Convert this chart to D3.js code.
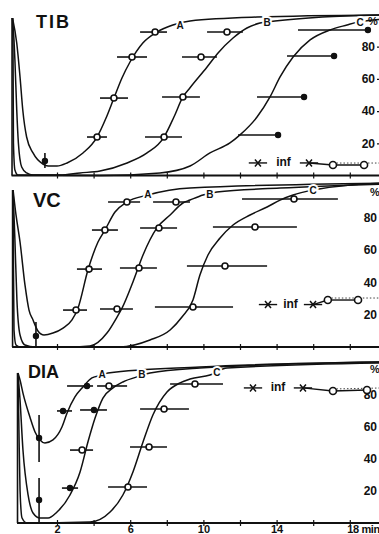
<!DOCTYPE html>
<html>
<head>
<meta charset="utf-8">
<script src="https://cdn.jsdelivr.net/npm/d3@7"></script>
<style>
  html, body { margin: 0; padding: 0; background: #fff; }
  svg { display: block; font-family: "Liberation Sans", Arial, sans-serif; }
</style>
</head>
<body>
<svg id="chart" width="379" height="534"></svg>
<script>
// time axis (min) and % axis
const timeTicks = [2, 4, 6, 8, 10, 12, 14, 16, 18];
const timeLabels = ['2', '', '6', '', '10', '', '14', '', '18 min'];
const pctTicks = [20, 40, 60, 80];
const curveNames = ['A', 'B', 'C'];

// TIB — curves as [min, %]
const tibA = [[-0.43,97.8],[-0.2,82.3],[-0.02,61.2],[0.13,40.7],[0.34,23.9],[0.69,14.0],[1.23,7.1],[1.51,5.9],[2.0,5.9],[2.55,7.8],[3.42,14.0],[4.19,23.9],[4.68,35.7],[5.11,48.1],[5.55,60.6],[5.99,70.5],[6.69,82.3],[7.46,89.1],[8.33,93.5],[9.27,96.0],[12.93,98.4],[19.9,99.7]];
const tibB = [[-0.43,97.8],[-0.35,84.2],[-0.3,71.7],[-0.2,40.7],[-0.11,20.2],[0.07,5.3],[0.34,1.6],[0.69,0.3],[2.16,0.3],[3.26,1.6],[4.35,2.8],[5.83,7.8],[6.92,14.0],[7.85,23.9],[8.39,36.3],[8.88,48.8],[9.27,54.5],[10.2,67.4],[10.8,76.1],[11.62,85.4],[12.38,91.6],[13.09,94.7],[13.91,95.9],[16.5,98.4],[19.9,99.7]];
const tibC = [[-0.43,97.8],[-0.4,71.7],[-0.38,20.2],[-0.3,3.4],[-0.13,0.3],[4.35,0],[7.63,1.6],[9.27,5.9],[10.36,14.0],[11.45,20.2],[12.0,25.2],[12.93,36.3],[13.64,48.8],[14.19,61.2],[14.9,73.6],[15.83,84.2],[16.92,90.4],[17.85,93.5],[18.45,95.3],[19.9,97.2]];
// markers: [min, %, bar from, bar to]
const tibOpenA = [[4.19,23.9,3.64,4.73],[5.11,48.1,4.35,5.88],[6.10,73.6,5.28,6.92],[7.36,89.1,6.54,8.01]];
const tibOpenB = [[7.85,23.9,6.81,8.83],[8.88,48.8,7.74,9.81],[9.87,73.6,8.83,10.74],[11.29,89.1,10.20,12.16]];
const tibFilledC = [[14.08,25.2,11.89,14.08],[15.5,48.8,12.93,15.5],[17.14,74.2,14.57,17.14],[18.99,90.4,15.17,18.99]];
// trough: [min, %, % low, % high]
const tibTrough = [[1.34,9.0,4.7,14.0]];
const tibInfCross = [[12.98,7.8],[15.77,7.8]];
const tibInfOpen = [[17.08,6.5],[18.78,6.5]];
const tibLabelPos = [[8.73,92.9],[13.48,94.7],[18.56,94.7]];

// VC
const vcA = [[-0.4,96.9],[-0.24,81.5],[-0.02,64.8],[0.25,38.3],[0.47,22.8],[0.69,16.7],[0.96,9.9],[1.29,7.4],[1.78,8.6],[2.33,11.7],[2.82,16.7],[3.15,24.1],[3.69,47.5],[4.24,64.8],[4.62,72.2],[5.17,83.3],[5.82,89.5],[6.97,93.8],[9.27,98.1],[19.9,101.2]];
const vcB = [[-0.4,96.9],[-0.3,66.0],[-0.19,29.0],[-0.02,7.4],[0.25,1.2],[0.8,0],[2.71,0],[3.8,0.6],[4.73,8.6],[5.28,18.5],[5.56,24.1],[6.15,40.1],[6.7,56.8],[7.46,73.5],[8.18,81.5],[8.88,88.9],[9.27,90.7],[9.98,93.8],[10.74,95.7],[14.19,98.1],[19.9,100.6]];
const vcC = [[-0.4,96.9],[-0.38,53.7],[-0.35,10.5],[-0.24,1.2],[-0.02,0],[5.44,0],[7.08,4.3],[8.18,10.5],[8.83,18.5],[9.43,29.0],[9.81,44.4],[10.25,56.8],[10.91,67.3],[11.62,75.3],[12.55,81.5],[13.48,86.4],[14.19,90.7],[14.9,93.8],[16.0,96.9],[18.01,100],[19.9,101.2]];
const vcOpenA = [[3.04,22.8,2.33,3.64],[3.75,48.1,3.09,4.46],[4.62,72.2,3.91,5.33],[5.82,89.5,4.79,6.54]];
const vcOpenB = [[5.28,23.5,4.35,6.15],[6.48,48.8,5.44,7.46],[7.57,73.5,6.54,8.56],[8.5,89.5,7.25,9.27]];
const vcOpenC = [[9.43,24.7,7.35,11.62],[11.18,50.0,9.1,13.48],[12.82,74.1,10.52,15.11],[14.95,91.4,12.11,17.35]];
const vcTrough = [[0.85,6.8,0,15.4]];
const vcInfCross = [[13.53,26.2],[15.99,26.2]];
const vcInfOpen = [[16.8,29.0],[18.45,29.0]];
const vcLabelPos = [[6.97,93.8],[10.36,93.8],[15.99,96.3]];

// DIA
const diaA = [[-0.13,93.2],[-0.02,88.8],[0.14,80.7],[0.52,65.8],[0.8,56.5],[1.07,51.6],[1.34,49.7],[1.78,51.6],[2.27,59.6],[2.55,68.3],[2.98,78.3],[3.42,84.5],[3.91,90.1],[4.46,91.9],[4.79,93.2],[9.81,96.9],[19.9,100]];
const diaB = [[-0.13,93.2],[-0.02,76.4],[0.14,45.3],[0.42,17.4],[0.69,6.2],[1.07,3.1],[1.51,3.1],[2.0,6.8],[2.71,17.4],[3.26,31.7],[3.69,50.3],[4.08,65.2],[4.51,77.6],[5.06,83.9],[5.6,87.6],[6.53,91.3],[7.08,93.2],[9.81,96.3],[19.9,100]];
const diaC = [[-0.13,93.2],[-0.08,57.8],[-0.02,20.5],[0.09,3.1],[0.36,0],[3.8,0.6],[4.9,6.8],[5.6,17.4],[6.15,31.7],[6.7,50.3],[7.24,67.1],[8.01,81.4],[8.72,87.0],[9.27,89.4],[10.36,91.9],[11.29,96.3],[19.9,99.4]];
const diaFilledA = [[2.33,69.6,2.0,2.82],[3.64,85.1,2.55,3.97]];
const diaFilledB = [[2.71,21.7,2.27,3.15],[4.02,70.2,3.26,4.73]];
const diaOpenB = [[3.37,45.3,2.71,3.97],[4.84,85.1,4.19,5.83]];
const diaOpenC = [[5.88,22.4,4.79,6.92],[7.03,47.2,5.99,8.01],[7.85,70.8,6.54,9.21],[9.54,86.3,8.18,11.07]];
const diaTrough = [[1.02,52.8,37.9,67.1],[1.02,14.3,0.6,28.0]];
const diaInfCross = [[12.71,83.9],[15.44,83.9]];
const diaInfOpen = [[17.08,82.0],[18.94,82.6]];
const diaLabelPos = [[4.46,91.9],[6.64,91.9],[10.74,93.2]];

const W = 379;
const INK = '#111';
const svg = d3.select('#chart');
const x = d3.scaleLinear().domain([0, 18]).range([20.4, 349.8]);

const panels = [
  { name: 'TIB', y0: 175.5, y100: 14.5, axisX: 380, titleX: 36, titleY: 28, titleSize: 18, spacing: 2,
    curves: [tibA, tibB, tibC], open: [tibOpenA, tibOpenB], filled: [tibFilledC],
    trough: tibTrough, infCross: tibInfCross, infOpen: tibInfOpen, labels: tibLabelPos, showX: false },
  { name: 'VC', y0: 347, y100: 185, axisX: 382, titleX: 33, titleY: 207, titleSize: 20, spacing: 0,
    curves: [vcA, vcB, vcC], open: [vcOpenA, vcOpenB, vcOpenC], filled: [],
    trough: vcTrough, infCross: vcInfCross, infOpen: vcInfOpen, labels: vcLabelPos, showX: false },
  { name: 'DIA', y0: 523, y100: 362, axisX: 382, titleX: 28, titleY: 378, titleSize: 18, spacing: 0,
    curves: [diaA, diaB, diaC], open: [diaOpenB, diaOpenC], filled: [diaFilledA, diaFilledB],
    trough: diaTrough, infCross: diaInfCross, infOpen: diaInfOpen, labels: diaLabelPos, showX: true }
];

function drawPanel(p) {
  const y = d3.scaleLinear().domain([0, 100]).range([p.y0, p.y100]);
  const g = svg.append('g');
  const start = p.curves[0][0];

  // baseline and left edge
  g.append('line')
    .attr('x1', x(start[0]) - 1).attr('x2', W)
    .attr('y1', y(0)).attr('y2', y(0))
    .attr('stroke', INK).attr('stroke-width', 2);
  g.append('line')
    .attr('x1', x(start[0]) - 0.5).attr('x2', x(start[0]) - 0.5)
    .attr('y1', y(0)).attr('y2', y(start[1]))
    .attr('stroke', INK).attr('stroke-width', 1.6);

  // time ticks (down with labels, small marks up)
  const axDown = g.append('g')
    .attr('transform', `translate(0,${y(0)})`)
    .call(d3.axisBottom(x).tickValues(timeTicks).tickSize(3).tickPadding(1)
      .tickFormat((d, i) => p.showX ? timeLabels[i] : ''));
  axDown.select('.domain').remove();
  axDown.selectAll('line').attr('stroke', INK).attr('stroke-width', 1.2);
  axDown.selectAll('text')
    .attr('fill', INK).attr('font-size', '11px').attr('font-weight', 'bold')
    .attr('dy', null).attr('y', 9.5);
  axDown.selectAll('text').filter(d => d === 18)
    .attr('text-anchor', 'start').attr('x', -3)
    .attr('letter-spacing', -0.4);
  const axUp = g.append('g')
    .attr('transform', `translate(0,${y(0)})`)
    .call(d3.axisBottom(x).tickValues(timeTicks).tickSize(-3).tickFormat(''));
  axUp.select('.domain').remove();
  axUp.selectAll('line').attr('stroke', INK).attr('stroke-width', 1.2);

  // right % axis
  const axR = g.append('g')
    .attr('transform', `translate(${p.axisX},0)`)
    .call(d3.axisLeft(y).tickValues(pctTicks).tickSize(3).tickPadding(2));
  axR.select('.domain').remove();
  axR.selectAll('line').attr('stroke', INK).attr('stroke-width', 1.2);
  axR.selectAll('text')
    .attr('fill', INK).attr('font-size', '12px').attr('font-weight', 'bold');
  g.append('text')
    .attr('x', p.axisX - 12).attr('y', y(95))
    .attr('dominant-baseline', 'middle')
    .attr('fill', INK).attr('font-size', '11px').attr('font-weight', 'bold')
    .text('%');

  // curves
  const line = d3.line()
    .x(d => x(d[0]))
    .y(d => y(d[1]))
    .curve(d3.curveMonotoneX);
  g.selectAll('path.curve')
    .data(p.curves)
    .enter()
    .append('path')
    .attr('class', 'curve')
    .attr('d', line)
    .attr('fill', 'none')
    .attr('stroke', INK)
    .attr('stroke-width', 1.5);

  // curve labels A, B, C
  g.selectAll('text.clabel')
    .data(p.labels)
    .enter()
    .append('text')
    .attr('class', 'clabel')
    .attr('x', d => x(d[0]))
    .attr('y', d => y(d[1]))
    .attr('text-anchor', 'middle')
    .attr('dominant-baseline', 'middle')
    .attr('font-size', '10px')
    .attr('font-weight', 'bold')
    .attr('fill', INK)
    .attr('stroke', '#fff')
    .attr('stroke-width', 4)
    .attr('paint-order', 'stroke')
    .text((d, i) => curveNames[i]);

  // trough markers with vertical bars
  p.trough.forEach(d => {
    g.append('line')
      .attr('x1', x(d[0])).attr('x2', x(d[0]))
      .attr('y1', y(d[2])).attr('y2', y(d[3]))
      .attr('stroke', INK).attr('stroke-width', 1.6);
    g.append('circle')
      .attr('cx', x(d[0])).attr('cy', y(d[1])).attr('r', 3.2)
      .attr('fill', INK);
  });

  // recovery markers with horizontal bars
  const drawMarks = (rows, filled) => {
    rows.forEach(d => {
      g.append('line')
        .attr('x1', x(d[2])).attr('x2', x(d[3]))
        .attr('y1', y(d[1])).attr('y2', y(d[1]))
        .attr('stroke', INK).attr('stroke-width', 1.6);
      g.append('circle')
        .attr('cx', x(d[0])).attr('cy', y(d[1]))
        .attr('r', filled ? 2.6 : 3)
        .attr('fill', filled ? INK : '#fff')
        .attr('stroke', INK).attr('stroke-width', filled ? 1.2 : 1.6);
    });
  };
  p.open.forEach(rows => drawMarks(rows, false));
  p.filled.forEach(rows => drawMarks(rows, true));

  // "inf" row
  const [c1, c2] = p.infCross;
  const [o1, o2] = p.infOpen;
  [c1, c2].forEach(c => {
    g.append('line')
      .attr('x1', x(c[0] - 0.5)).attr('x2', x(c[0] + 0.5))
      .attr('y1', y(c[1])).attr('y2', y(c[1]))
      .attr('stroke', INK).attr('stroke-width', 1.4);
    g.append('path')
      .attr('transform', `translate(${x(c[0])},${y(c[1])})`)
      .attr('d', 'M-3,-3.5L3,3.5M-3,3.5L3,-3.5')
      .attr('stroke', INK).attr('stroke-width', 1.5);
  });
  g.append('line')
    .attr('x1', x(c2[0])).attr('x2', x(o1[0]))
    .attr('y1', y(c2[1])).attr('y2', y(o1[1]))
    .attr('stroke', INK).attr('stroke-width', 1.4);
  g.append('line')
    .attr('x1', x(o1[0])).attr('x2', x(o2[0]))
    .attr('y1', y(o1[1])).attr('y2', y(o2[1]))
    .attr('stroke', INK).attr('stroke-width', 1.4);
  g.append('line')
    .attr('x1', x(o1[0])).attr('x2', W)
    .attr('y1', y(o1[1]) - 2).attr('y2', y(o2[1]) - 2)
    .attr('stroke', INK).attr('stroke-width', 0.8)
    .attr('stroke-dasharray', '1.5,2');
  [o1, o2].forEach(o => {
    g.append('circle')
      .attr('cx', x(o[0])).attr('cy', y(o[1])).attr('r', 3.5)
      .attr('fill', '#fff').attr('stroke', INK).attr('stroke-width', 1.6);
  });
  g.append('text')
    .attr('x', x((c1[0] + c2[0]) / 2))
    .attr('y', y(c1[1]))
    .attr('text-anchor', 'middle')
    .attr('dominant-baseline', 'middle')
    .attr('font-size', '12px')
    .attr('font-weight', 'bold')
    .attr('fill', INK)
    .text('inf');

  // panel title
  g.append('text')
    .attr('x', p.titleX).attr('y', p.titleY)
    .attr('font-size', p.titleSize + 'px')
    .attr('font-weight', 'bold')
    .attr('letter-spacing', p.spacing)
    .attr('fill', INK)
    .text(p.name);
}

panels.forEach(drawPanel);
</script>
</body>
</html>
